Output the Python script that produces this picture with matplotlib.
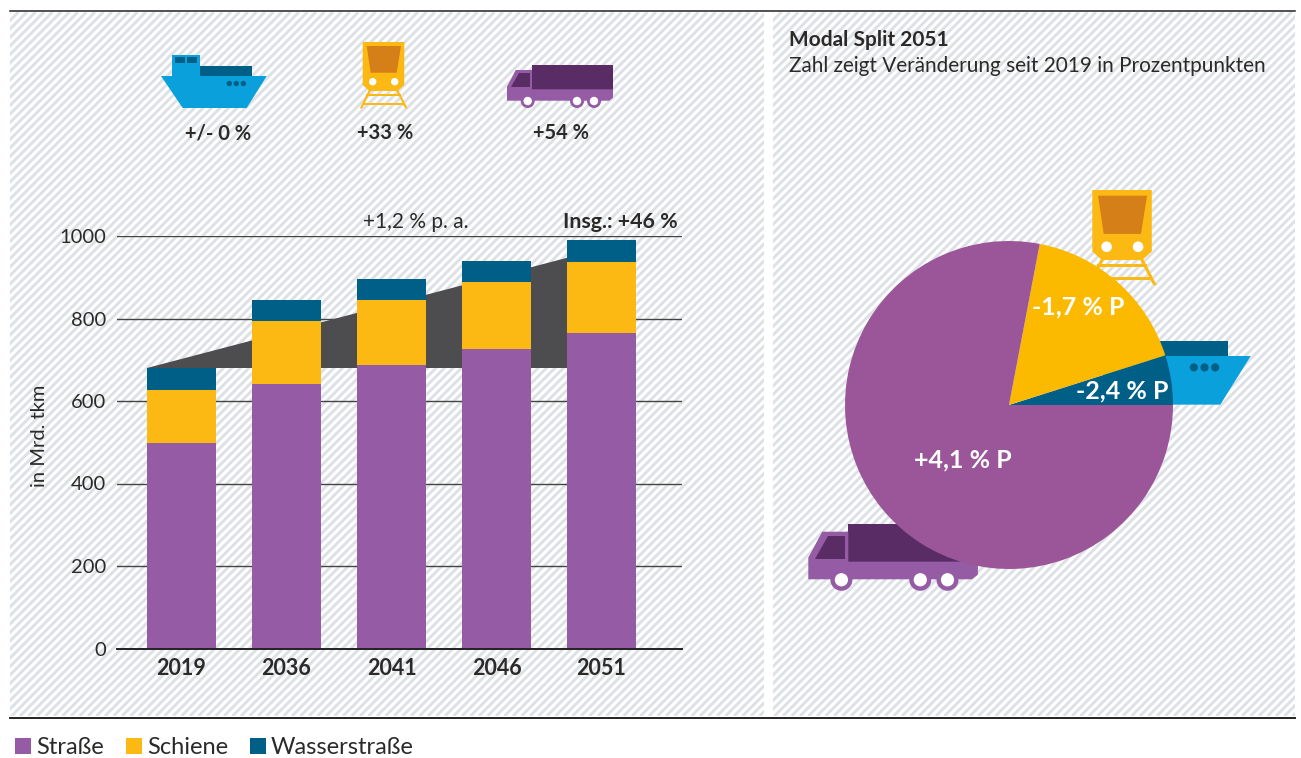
import numpy as np
import matplotlib
matplotlib.use("Agg")
import matplotlib.pyplot as plt
from matplotlib.patches import Polygon, Circle, Rectangle
from matplotlib.collections import LineCollection

plt.rcParams['font.family'] = ['Lato', 'DejaVu Sans']

years = ['2019', '2036', '2041', '2046', '2051']
strasse = [498, 641, 687, 726, 765]
schiene = [129, 153, 158, 163, 172]
wasser = [53, 51, 51, 51, 54]
y_ticks = [0, 200, 400, 600, 800, 1000]
pie_values = [4.9, 17.1, 78.0]
pie_labels = ['-2,4 % P', '-1,7 % P', '+4,1 % P']
legend_labels = ['Straße', 'Schiene', 'Wasserstraße']

C_ROAD, C_RAIL, C_WATER = '#955ba5', '#fdb913', '#005f87'
PIE_ROAD, PIE_RAIL = '#9b5699', '#fbb900'
C_SHIP, C_BOX, C_WIN = '#09a0dc', '#5a2c66', '#d47f17'
TXT = '#2b2a29'
W, H = 1301, 758

fig = plt.figure(figsize=(W / 100, H / 100), dpi=100, facecolor='white')

bg = fig.add_axes([0, 0, 1, 1], zorder=0)
bg.set_xlim(0, W); bg.set_ylim(H, 0); bg.axis('off')


def stripes(x0, x1, y0, y1, period=8.5):
    rect = Rectangle((x0, y0), x1 - x0, y1 - y0, fc='white', ec='none', transform=bg.transData)
    bg.add_patch(rect)
    segs = []
    for c in np.arange(x0 + y0, x1 + y1 + (y1 - y0), period):
        segs.append([(c - y0, y0), (c - y1, y1)])
    lc = LineCollection(segs, colors='#dde1e5', linewidths=2.1, zorder=1)
    bg.add_collection(lc)
    lc.set_clip_path(rect)


stripes(10, 764, 12, 716)
stripes(773, 1295, 12, 716)
bg.plot([10, 1295], [11, 11], color='#222222', lw=1.1, zorder=2)
bg.plot([10, 1295], [718, 718], color='#222222', lw=1.4, zorder=2)


def poly(pts, color, sx=1, sy=1, ax0=0, ay0=0, ox=0, oy=0):
    p = [(ox + (x - ax0) * sx, oy + (y - ay0) * sy) for x, y in pts]
    bg.add_patch(Polygon(p, closed=True, fc=color, ec='none', zorder=3))


def circ(x, y, r, color, sx=1, sy=1, ax0=0, ay0=0, ox=0, oy=0):
    bg.add_patch(Circle((ox + (x - ax0) * sx, oy + (y - ay0) * sy), r * (sx + sy) / 2, fc=color, ec='none', zorder=3))


def box(x0, y0, x1, y1):
    return [(x0, y0), (x1, y0), (x1, y1), (x0, y1)]


def ship(superstructure=True, **t):
    if superstructure:
        poly(box(172, 55, 200, 77), C_SHIP, **t)
        poly(box(175, 57, 185, 63), C_WATER, **t)
        poly(box(187, 57, 197, 63), C_WATER, **t)
    poly(box(200, 66, 252, 76.5), C_WATER, **t)
    poly([(161, 76), (266.7, 76), (246.7, 108), (182.7, 108)], C_SHIP, **t)
    for x in (229.3, 236.3, 243.3):
        circ(x, 83.5, 2.7, C_WATER, **t)


def train(**t):
    lw = 2.4
    for a, b in [((370, 90), (361, 108.5)), ((397, 90), (406.5, 108.5))]:
        poly([(a[0] - lw / 2, a[1]), (a[0] + lw / 2, a[1]), (b[0] + lw / 2, b[1]), (b[0] - lw / 2, b[1])], C_RAIL, **t)
    poly(box(366, 93.5, 401, 96), C_RAIL, **t)
    poly(box(363, 102.5, 404, 105), C_RAIL, **t)
    poly([(362.7, 42), (404.3, 42), (404.3, 85), (397.5, 91), (369.5, 91), (362.7, 85)], C_RAIL, **t)
    poly([(366.7, 46), (401, 46), (396.7, 72.7), (370.7, 72.7)], C_WIN, **t)
    circ(372.7, 81.7, 3.7, 'white', **t)
    circ(394.7, 81.7, 3.7, 'white', **t)


def truck(**t):
    poly(box(532, 65, 613, 90), C_BOX, **t)
    poly([(515.7, 70), (532, 70), (532, 89.3), (613, 89.3), (613, 97.7), (609.3, 100.7),
          (507, 100.7), (507, 86.7)], C_ROAD, **t)
    poly([(519, 72.7), (530, 72.7), (530, 87.3), (511, 87.3)], C_BOX, **t)
    for x in (527.7, 577, 594):
        circ(x, 101, 7, C_ROAD, **t)
        circ(x, 101, 4.2, 'white', **t)


ship(); train(); truck()
ship(superstructure=False, sx=1.52, sy=1.52, ax0=266.7, ay0=76, ox=1250.7, oy=356)
train(sx=1.43, sy=1.43, ax0=362.7, ay0=42, ox=1092.3, oy=190)
truck(sx=1.6, sy=1.55, ax0=507, ay0=100.7, ox=808.3, oy=579.3)

ax = fig.add_axes([117 / W, 1 - 648.5 / H, (682 - 117) / W, 412.5 / H], zorder=1)
ax.patch.set_alpha(0)
ax.set_xlim((117 - 181.5) / 105, (682 - 181.5) / 105)
ax.set_ylim(0, 1000)
x = np.arange(len(years))
bw = 69 / 105
s = np.array(strasse); r = np.array(schiene); w = np.array(wasser)
tot = s + r + w
ax.set_yticks(y_ticks)
ax.set_xticks(x, years, fontweight='bold')
ax.grid(axis='y', color='#444444', lw=1, zorder=1)
ax.set_axisbelow(True)
ax.fill([x[0] - bw / 2, x[-1] + bw / 2, x[-1] + bw / 2],
        [tot[0], tot[-1], tot[0]], color='#4d4d4f', lw=0, zorder=2)
h1 = ax.bar(x, s, bw, color=C_ROAD, zorder=3)
h2 = ax.bar(x, r, bw, bottom=s, color=C_RAIL, zorder=3)
h3 = ax.bar(x, w, bw, bottom=s + r, color=C_WATER, zorder=3)
for sp in ('top', 'right', 'left'):
    ax.spines[sp].set_visible(False)
ax.spines['bottom'].set_color('#222222'); ax.spines['bottom'].set_linewidth(1.4)
ax.spines['bottom'].set_zorder(5)
ax.tick_params(axis='y', length=0, labelsize=14.5, labelcolor=TXT, pad=8)
ax.tick_params(axis='x', length=0, labelsize=15.5, labelcolor=TXT, pad=7)
ax.set_ylabel('in Mrd. tkm', fontsize=14.5, color=TXT, labelpad=0)
ax.yaxis.set_label_coords((48 - 117) / (682 - 117), (649 - 437) / 412)

R = 164
pax = fig.add_axes([(1009 - R) / W, 1 - (405 + R) / H, 2 * R / W, 2 * R / H], zorder=2)
pax.pie(pie_values, colors=[C_WATER, PIE_RAIL, PIE_ROAD], startangle=0, counterclock=True, radius=1)
pax.set_xlim(-1, 1); pax.set_ylim(-1, 1)
for t_, (px, py) in zip(pie_labels, [(1122, 391), (1078, 307), (963, 460)]):
    fig.text(px / W, 1 - py / H, t_, color='white', fontweight='bold', fontsize=18,
             ha='center', va='center', zorder=10)


def txt(px, py, s_, **k):
    k.setdefault('color', TXT)
    k.setdefault('va', 'center')
    fig.text(px / W, 1 - py / H, s_, **k)


for px, s_ in zip([218, 385, 561], ['+/- 0 %', '+33 %', '+54 %']):
    txt(px, 133, s_, ha='center', fontweight='bold', fontsize=14.5)
txt(416, 222, '+1,2 % p. a.', ha='center', fontsize=15)
txt(678, 222, 'Insg.: +46 %', ha='right', fontweight='bold', fontsize=15.4)
txt(789, 40, 'Modal Split 2051', fontweight='bold', fontsize=15)
txt(789, 66.5, 'Zahl zeigt Veränderung seit 2019 in Prozentpunkten', fontsize=14.95)

fig.legend([h1, h2, h3], legend_labels, loc='lower left', bbox_to_anchor=(15 / W, 0 / H), ncol=3,
           frameon=False, fontsize=17, labelcolor=TXT, handlelength=0.68, handleheight=0.68,
           handletextpad=0.21, columnspacing=0.93, borderpad=0, borderaxespad=0)

fig.savefig('out.png', dpi=100)
